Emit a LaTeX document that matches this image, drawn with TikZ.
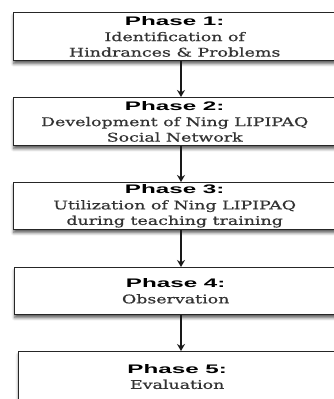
\documentclass[tikz,border=0pt]{standalone}
\usepackage{fontspec}
\usetikzlibrary{arrows.meta,shadows.blur}
\newfontfamily\phasefont{Liberation Sans}[FakeStretch=1.95]
\newfontfamily\bodyfont{DejaVu Serif}[FakeStretch=1.45,FakeBold=0.6]
\definecolor{bodygray}{HTML}{333333}
\newcommand{\ph}[1]{{\phasefont\bfseries\color{black}\fontsize{12.4}{15.5}\selectfont #1}}
\tikzset{
  phasebox/.style={draw=black!85, line width=1.4pt, fill=white, anchor=north west,
    minimum width=322pt, inner sep=0pt, align=center,
    font=\bodyfont\fontsize{12}{15.5}\selectfont, text=bodygray,
    blur shadow={shadow xshift=0pt, shadow yshift=-3pt, shadow blur radius=3pt, shadow opacity=65}},
  arr/.style={line width=1.2pt, draw=black!90, -{Stealth[length=7pt,width=8pt]}}
}
\begin{document}
\begin{tikzpicture}[x=1pt,y=1pt]
\useasboundingbox (0,0) rectangle (333,-399);
\node[phasebox, minimum height=48pt] (b1) at (13,-12) {\ph{Phase 1:}\\Identification of\\Hindrances \& Problems};
\node[phasebox, minimum height=48pt] (b2) at (13,-97) {\ph{Phase 2:}\\Development of Ning LIPIPAQ\\Social Network};
\node[phasebox, minimum height=47pt] (b3) at (13,-182) {\ph{Phase 3:}\\Utilization of Ning LIPIPAQ\\during teaching training};
\node[phasebox, minimum height=47pt] (b4) at (14,-267) {\ph{Phase 4:}\\Observation};
\node[phasebox, minimum height=50pt, minimum width=317pt] (b5) at (18,-351) {\ph{Phase 5:}\\Evaluation};
\coordinate (ax) at (181,0);
\draw[arr] (b1.south -| ax) -- (b2.north -| ax);
\draw[arr] (b2.south -| ax) -- (b3.north -| ax);
\draw[arr] (b3.south -| ax) -- (b4.north -| ax);
\draw[arr] (b4.south -| ax) -- (b5.north -| ax);
\end{tikzpicture}
\end{document}
